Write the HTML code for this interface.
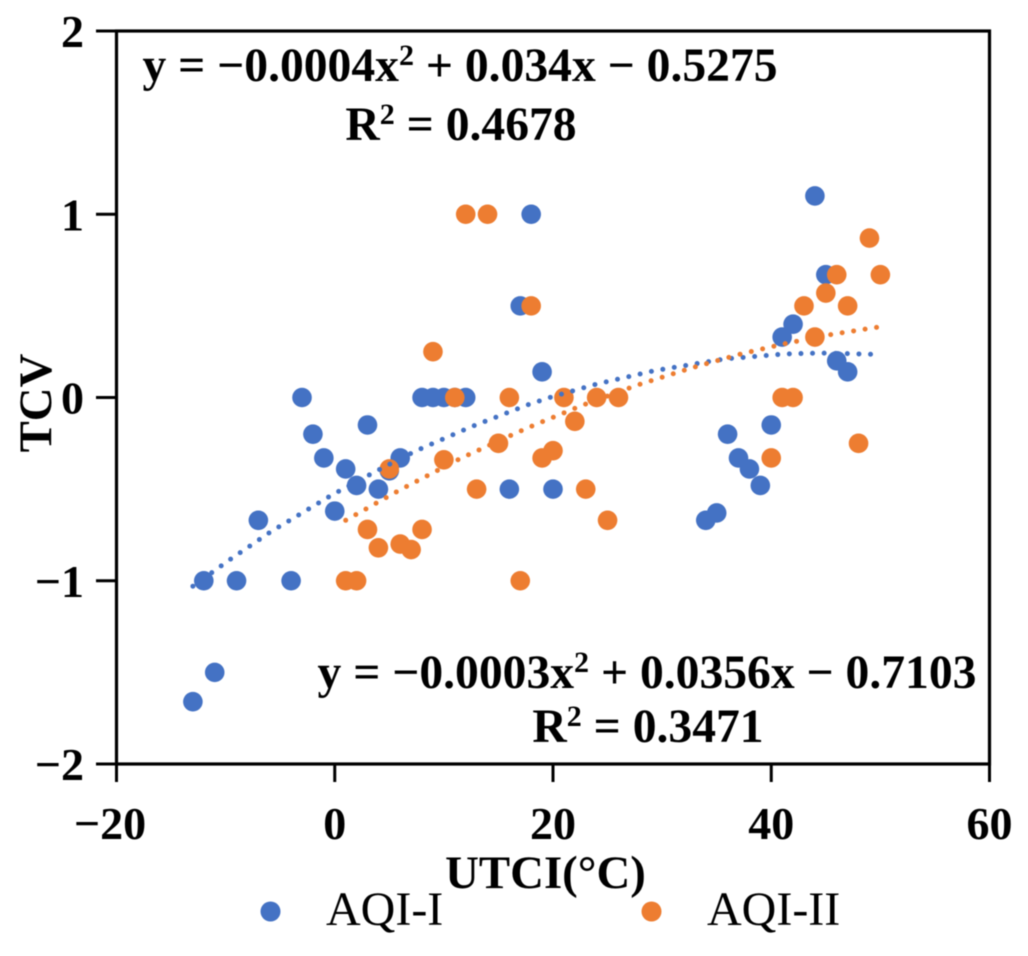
<!DOCTYPE html>
<html lang="en">
<head>
<meta charset="utf-8">
<title>TCV vs UTCI scatter chart</title>
<style>
html,body{margin:0;padding:0;background:#fff;}
svg{display:block;font-family:"Liberation Serif",serif;filter:blur(0.6px);}
.tick{font-weight:bold;font-size:46px;fill:#000;}
.eq{font-weight:bold;font-size:47.6px;fill:#000;}
.title{font-weight:bold;font-size:46.8px;fill:#000;}
.leg{font-size:48px;fill:#000;}
</style>
</head>
<body>
<svg id="chart" xmlns="http://www.w3.org/2000/svg" width="1028" height="956" viewBox="0 0 1028 956"></svg>
<script>
const xTicks = [-20, 0, 20, 40, 60];
const yTicks = [-2, -1, 0, 1, 2];

const aqi1X = [-13,-12,-11,-9,-7,-4,-3,-2,-1,0,1,2,3,4,5,6,8,9,10,11,12,16,17,18,19,20,34,35,36,37,38,39,40,41,42,44,45,46,47];
const aqi1Y = [-1.66,-1,-1.5,-1,-0.67,-1,0,-0.2,-0.33,-0.62,-0.39,-0.48,-0.15,-0.5,-0.4,-0.33,0,0,0,0,0,-0.5,0.5,1,0.14,-0.5,-0.67,-0.63,-0.2,-0.33,-0.39,-0.48,-0.15,0.33,0.4,1.1,0.67,0.2,0.14];

const aqi2X = [1,2,3,4,5,6,7,8,9,10,11,12,13,14,15,16,17,18,19,20,21,22,23,24,25,26,40,41,42,43,44,45,46,47,48,49,50];
const aqi2Y = [-1,-1,-0.72,-0.82,-0.39,-0.8,-0.83,-0.72,0.25,-0.34,0,1,-0.5,1,-0.25,0,-1,0.5,-0.33,-0.29,0,-0.13,-0.5,0,-0.67,0,-0.33,0,0,0.5,0.33,0.57,0.67,0.5,-0.25,0.87,0.67];

const trend1X = [-13,-9.5,-5.8,-0.2,4.5,7.5,12.5,17.7,19.7,24,29.3,35.7,41.1,44.4,49.8];
const trend1Y = [-1.03,-0.88,-0.73,-0.53,-0.38,-0.29,-0.16,-0.04,0,0.073,0.146,0.21,0.237,0.243,0.235];

const trend2X = [1,5.8,11.6,17.5,18.5,22.6,27.7,32.9,37.1,41.4,45.6,49.9];
const trend2Y = [-0.67,-0.51,-0.33,-0.17,-0.145,-0.045,0.067,0.165,0.236,0.296,0.345,0.385];

const BLUE = '#4472C4';
const ORANGE = '#ED7D31';
const svg = document.getElementById('chart');
const NS = 'http://www.w3.org/2000/svg';

function sx(v){ return 116.5 + (v + 20) * (989.5 - 116.5) / 80; }
function sy(v){ return 397.5 - v * (764 - 31) / 4; }

function mk(tag, attrs, text){
  const el = document.createElementNS(NS, tag);
  for (const k in attrs) el.setAttribute(k, attrs[k]);
  if (text !== undefined) el.textContent = text;
  svg.appendChild(el);
  return el;
}

// ticks and labels
xTicks.forEach(function(t){
  const tk = mk('line', {x1:sx(t), x2:sx(t), y1:764, y2:782, stroke:'#000', 'stroke-width':3});
  
  
  const lb = mk('text', {x:sx(t) - (t < 0 ? 6.5 : 0), y:839, 'text-anchor':'middle', class:'tick'}, String(t).replace('-', '\u2212'));
  
  
});
yTicks.forEach(function(t){
  const tk = mk('line', {x1:96, x2:116.5, y1:sy(t), y2:sy(t), stroke:'#000', 'stroke-width':3});
  
  
  const lb = mk('text', {x:84, y:sy(t) + 16, 'text-anchor':'end', class:'tick'}, String(t).replace('-', '\u2212'));
  
  
});

// points
aqi1X.forEach(function(x, i){
  const c = mk('circle', {cx:sx(x), cy:sy(aqi1Y[i]), r:9.8, fill:BLUE});
  
  
});
aqi2X.forEach(function(x, i){
  const c = mk('circle', {cx:sx(x), cy:sy(aqi2Y[i]), r:9.8, fill:ORANGE});
  
  
});

// trendlines
function trendPath(xs, ys){
  return xs.map(function(x, i){ return (i ? 'L' : 'M') + sx(x).toFixed(1) + ' ' + sy(ys[i]).toFixed(1); }).join(' ');
}
const t1 = mk('path', {d:trendPath(trend1X, trend1Y), fill:'none', stroke:BLUE, 'stroke-width':5, 'stroke-linecap':'round', 'stroke-dasharray':'0 11.6'});


const t2 = mk('path', {d:trendPath(trend2X, trend2Y), fill:'none', stroke:ORANGE, 'stroke-width':5, 'stroke-linecap':'round', 'stroke-dasharray':'0 11.6'});



// frame
const frame = mk('rect', {x:116.5, y:31, width:873, height:733, fill:'none', stroke:'#000', 'stroke-width':3.2});



// equations
function eq(x, y, name, parts){
  const t = mk('text', {x:x, y:y, class:'eq', 'text-anchor':'middle'});
  
  
  parts.forEach(function(p){
    const s = document.createElementNS(NS, 'tspan');
    if (p.sup) { s.setAttribute('baseline-shift', 'super'); s.setAttribute('font-size', '30'); }
    s.textContent = p.t;
    t.appendChild(s);
  });
}
eq(460, 81, 'aqi-i-equation', [{t:'y = \u22120.0004x'},{t:'2',sup:1},{t:' + 0.034x \u2212 0.5275'}]);
eq(461, 140, 'aqi-i-r-squared', [{t:'R'},{t:'2',sup:1},{t:' = 0.4678'}]);
eq(647, 688, 'aqi-ii-equation', [{t:'y = \u22120.0003x'},{t:'2',sup:1},{t:' + 0.0356x \u2212 0.7103'}]);
eq(648, 742, 'aqi-ii-r-squared', [{t:'R'},{t:'2',sup:1},{t:' = 0.3471'}]);

// axis titles
const xt = mk('text', {x:545.5, y:888, 'text-anchor':'middle', class:'title'}, 'UTCI(\u00B0C)');


const yt = mk('text', {x:0, y:0, 'text-anchor':'middle', class:'title', transform:'translate(51 403) rotate(-90)'}, 'TCV');



// legend
const l1 = mk('circle', {cx:270.5, cy:911.5, r:10, fill:BLUE});


const l1t = mk('text', {x:326, y:925, class:'leg'}, 'AQI-I');


const l2 = mk('circle', {cx:651.5, cy:911.5, r:10, fill:ORANGE});


const l2t = mk('text', {x:707, y:925, class:'leg'}, 'AQI-II');


</script>
</body>
</html>
